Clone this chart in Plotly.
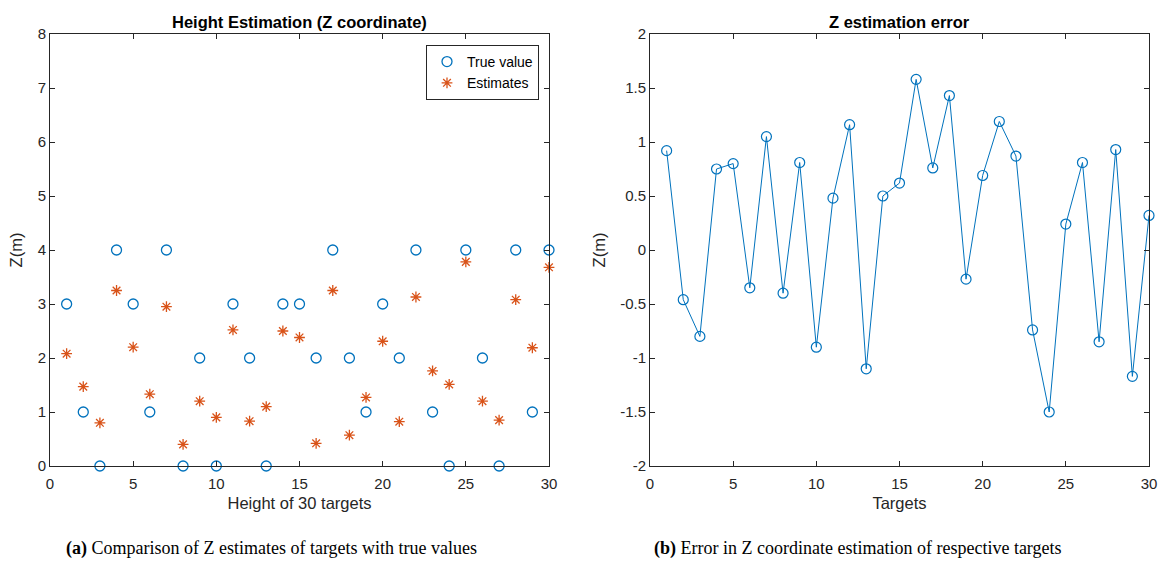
import plotly.graph_objects as go

targets = list(range(1, 31))
true_values = [3, 1, 0, 4, 3, 1, 4, 0, 2, 0, 3, 2, 0, 3, 3, 2, 4, 2, 1, 3, 2, 4, 1, 0, 4, 2, 0, 4, 1, 4]
estimates = [2.08, 1.47, 0.80, 3.25, 2.20, 1.33, 2.95, 0.40, 1.20, 0.90, 2.52, 0.83, 1.10, 2.50, 2.38,
             0.42, 3.25, 0.57, 1.27, 2.31, 0.82, 3.13, 1.76, 1.51, 3.78, 1.20, 0.85, 3.08, 2.19, 3.68]
errors = [0.92, -0.46, -0.80, 0.75, 0.80, -0.35, 1.05, -0.40, 0.81, -0.90, 0.48, 1.16, -1.10, 0.50, 0.62,
          1.58, 0.76, 1.43, -0.27, 0.69, 1.19, 0.87, -0.74, -1.50, 0.24, 0.81, -0.85, 0.93, -1.17, 0.32]

left_xticks = [0, 5, 10, 15, 20, 25, 30]
left_yticks = [0, 1, 2, 3, 4, 5, 6, 7, 8]
right_yticks = [-2, -1.5, -1, -0.5, 0, 0.5, 1, 1.5, 2]
right_ylabels = ["-2", "-1.5", "-1", "-0.5", "0", "0.5", "1", "1.5", "2"]

BLUE = "#0072BD"
ORANGE = "#D95319"
AX = "#262626"
W, H = 1167, 562


def px(x):
    return x / W


def py(y):
    return 1 - y / H


fig = go.Figure()
fig.add_trace(go.Scatter(x=targets, y=true_values, mode="markers", name="True value",
                         marker=dict(symbol="circle-open", size=10, color=BLUE, line=dict(width=1.3, color=BLUE)),
                         xaxis="x", yaxis="y", cliponaxis=False))
fig.add_trace(go.Scatter(x=targets, y=estimates, mode="markers", name="Estimates",
                         marker=dict(symbol="asterisk-open", size=9, color=ORANGE, line=dict(width=1.3, color=ORANGE)),
                         xaxis="x", yaxis="y", cliponaxis=False))
fig.add_trace(go.Scatter(x=targets, y=errors, mode="lines+markers", showlegend=False,
                         line=dict(color=BLUE, width=1),
                         marker=dict(symbol="circle-open", size=10, color=BLUE, line=dict(width=1.2, color=BLUE)),
                         xaxis="x2", yaxis="y2", cliponaxis=False))

ydom = [py(466), py(34)]
axis_common = dict(showgrid=False, zeroline=False, showline=True, linecolor=AX, linewidth=1,
                   mirror="ticks", ticks="inside", ticklen=5, tickcolor=AX, automargin=False,
                   tickfont=dict(family="Liberation Sans, Arial", size=15, color=AX))
title_font = dict(family="Liberation Sans, Arial", size=16.5, color=AX)

fig.update_layout(
    width=W, height=H, margin=dict(l=0, r=0, t=0, b=0, autoexpand=False),
    paper_bgcolor="white", plot_bgcolor="white",
    xaxis=dict(domain=[px(50), px(549)], range=[0, 30], tickvals=left_xticks, anchor="y",
               ticklabelstandoff=4,
               title=dict(text="Height of 30 targets", font=title_font, standoff=6), **axis_common),
    yaxis=dict(domain=ydom, range=[0, 8], tickvals=left_yticks, anchor="x",
               title=dict(text="Z(m)", font=title_font, standoff=10), **axis_common),
    xaxis2=dict(domain=[px(650), px(1149)], range=[0, 30], tickvals=left_xticks, anchor="y2",
                ticklabelstandoff=4,
                title=dict(text="Targets", font=title_font, standoff=6), **axis_common),
    yaxis2=dict(domain=ydom, range=[-2, 2], tickvals=right_yticks, ticktext=right_ylabels, anchor="x2",
                title=dict(text="Z(m)", font=title_font, standoff=10), **axis_common),
    legend=dict(x=px(539), xanchor="right", y=py(45), yanchor="top",
                bgcolor="white", bordercolor=AX, borderwidth=1,
                font=dict(family="Liberation Sans, Arial", size=14, color="black"),
                itemwidth=30, tracegroupgap=0),
    showlegend=True,
)

fig.add_annotation(text="<b>Height Estimation (Z coordinate)</b>", x=px((50 + 549) / 2), y=py(22),
                   xref="paper", yref="paper", showarrow=False, xanchor="center", yanchor="middle",
                   font=dict(family="Liberation Sans, Arial", size=16.5, color="black"))
fig.add_annotation(text="<b>Z estimation error</b>", x=px((650 + 1149) / 2), y=py(22),
                   xref="paper", yref="paper", showarrow=False, xanchor="center", yanchor="middle",
                   font=dict(family="Liberation Sans, Arial", size=16.5, color="black"))
fig.add_annotation(text="<b>(a)</b> Comparison of Z estimates of targets with true values", x=px(64), y=py(548),
                   xref="paper", yref="paper", showarrow=False, xanchor="left", yanchor="middle",
                   font=dict(family="Liberation Serif, Times New Roman", size=18, color="black"))
fig.add_annotation(text="<b>(b)</b> Error in Z coordinate estimation of respective targets", x=px(652), y=py(548),
                   xref="paper", yref="paper", showarrow=False, xanchor="left", yanchor="middle",
                   font=dict(family="Liberation Serif, Times New Roman", size=18, color="black"))

fig.write_html("out.html", config={"displayModeBar": False},
               post_script="document.body.style.margin='0';document.body.style.overflow='hidden';")
